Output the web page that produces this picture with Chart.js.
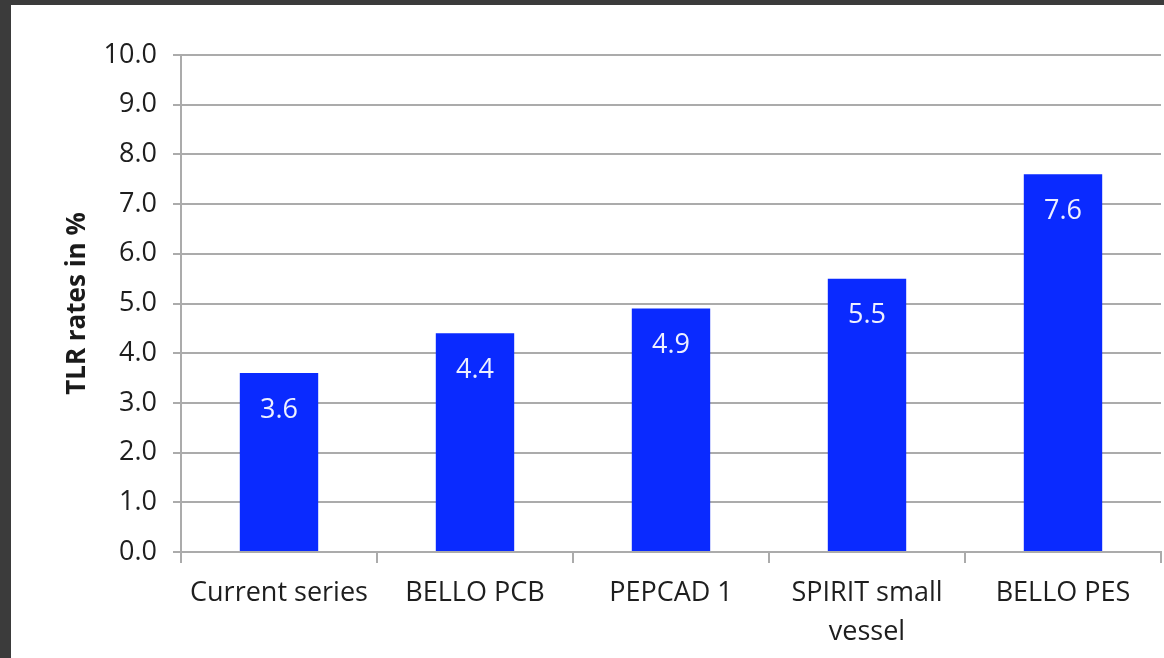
<!DOCTYPE html>
<html>
<head>
<meta charset="utf-8">
<title>TLR rates</title>
<script src="https://cdn.jsdelivr.net/npm/chart.js@4"></script>
<style>
  body { margin: 0; background: #3b3b3b; width: 1164px; height: 658px; overflow: hidden; }
  #panel { position: absolute; left: 11px; top: 5px; width: 1153px; height: 653px; background: #fff; }
</style>
</head>
<body>
<div id="panel"><canvas id="tlr-plot" width="1153" height="653"></canvas></div>
<script>
const studies = ["Current series", "BELLO PCB", "PEPCAD 1", ["SPIRIT small", "vessel"], "BELLO PES"];
const tlrRates = [3.6, 4.4, 4.9, 5.5, 7.6];
const yTicks = [0, 1, 2, 3, 4, 5, 6, 7, 8, 9, 10];

const textFont = "'Open Sans', 'DejaVu Sans', sans-serif";
const gridGray = '#ababab';

// white value inside the top of each bar
const barValues = {
    id: 'barValues',
    afterDatasetsDraw(chart) {
        const ctx = chart.ctx;
        const meta = chart.getDatasetMeta(0);
        ctx.save();
        ctx.font = "27px " + textFont;
        ctx.fillStyle = '#eef0ff';
        ctx.textAlign = 'center';
        ctx.textBaseline = 'middle';
        meta.data.forEach((bar, i) => {
            ctx.fillText(tlrRates[i].toFixed(1), bar.x, bar.y + 37);
        });
        ctx.restore();
    }
};

const tlrPlot = new Chart("tlr-plot", {
    type: 'bar',
    data: {
        labels: studies,
        datasets: [{
            data: tlrRates,
            backgroundColor: '#0a2aff',
            borderWidth: 0,
            barPercentage: 0.4,
            categoryPercentage: 1.0
        }]
    },
    options: {
        responsive: false,
        animation: false,
        layout: {
            padding: { top: 50, right: 3, left: 0, bottom: 0 }
        },
        scales: {
            x: {
                afterFit: (scale) => { scale.height = 106; },
                grid: {
                    drawOnChartArea: false,
                    drawTicks: true,
                    tickLength: 11,
                    color: gridGray,
                    lineWidth: 2
                },
                border: { color: gridGray, width: 2 },
                ticks: {
                    padding: 11,
                    color: '#1e1e1e',
                    maxRotation: 0,
                    autoSkip: false,
                    font: { family: textFont, size: 27, lineHeight: 1.45 }
                }
            },
            y: {
                min: 0,
                max: 10,
                afterFit: (scale) => { scale.width = 170; },
                afterBuildTicks: (scale) => { scale.ticks = yTicks.map(v => ({ value: v })); },
                grid: {
                    color: gridGray,
                    lineWidth: 2,
                    tickLength: 8
                },
                border: { color: gridGray, width: 2 },
                ticks: {
                    padding: 16,
                    color: '#1e1e1e',
                    font: { family: textFont, size: 27 },
                    callback: (value) => value.toFixed(1)
                },
                title: {
                    display: true,
                    text: 'TLR rates in %',
                    color: '#1a1a1a',
                    font: { family: textFont, size: 26, weight: 'bold' },
                    padding: { top: 51, bottom: 0 }
                }
            }
        },
        plugins: {
            legend: { display: false },
            tooltip: { enabled: false }
        }
    },
    plugins: [barValues]
});
</script>
</body>
</html>
